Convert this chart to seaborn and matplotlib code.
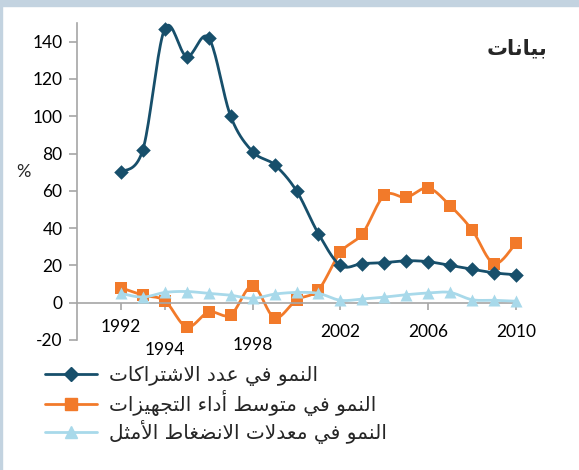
import numpy as np
import pandas as pd
import matplotlib
matplotlib.use('Agg')
import matplotlib.pyplot as plt
import seaborn as sns
from matplotlib.lines import Line2D
from matplotlib.patches import Rectangle

# dane
years = list(range(1992, 2011))
subscriptions = [70, 82, 147, 132, 142, 100, 81, 74, 60, 37,
                 20, 21, 21.5, 22.5, 22, 20, 18, 16, 15]
equipment = [8, 4, 1, -13, -5, -6.5, 9, -8, 1.5, 7,
             27, 37, 57.5, 56.5, 61.5, 52, 39, 21, 32]
compression = [5, 3, 5.5, 6, 5, 4, 2.3, 4.6, 5.5, 5,
               1.3, 2, 3, 4.3, 5.2, 5.5, 1.6, 1.3, 0.8]

labels = ['النمو في عدد الاشتراكات',
          'النمو في متوسط أداء التجهيزات',
          'النمو في معدلات الانضغاط الأمثل']
title = 'بيانات'
xticks = [1992, 1994, 1998, 2002, 2006, 2010]
yticks = list(range(-20, 141, 20))

colors = ['#174f6b', '#f27a2a', '#a8d9ea']
markers = ['D', 's', '^']
sizes = [55, 70, 75]


# prosty "shaper" arabski (matplotlib nie laczy liter)
_letters = 'ءآأؤإئابةتثجحخدذرزسشصضطظعغفقكلمنهوىي'
_right_only = set('آأؤإاةدذرزوى')
FORMS = {}
_cp = 0xFE80
for ch in _letters:
    n = 1 if ch == 'ء' else (2 if ch in _right_only else 4)
    FORMS[ch] = [chr(_cp + k) for k in range(n)]
    _cp += n
LAMALEF = {'آ': 0xFEF5, 'أ': 0xFEF7, 'إ': 0xFEF9, 'ا': 0xFEFB}


def shape(text):
    tokens = []
    i = 0
    while i < len(text):
        c = text[i]
        if c == 'ل' and i + 1 < len(text) and text[i + 1] in LAMALEF:
            cp = LAMALEF[text[i + 1]]
            tokens.append([chr(cp), chr(cp + 1)])
            i += 2
        else:
            tokens.append(FORMS.get(c, c))
            i += 1
    out = []
    for k, f in enumerate(tokens):
        if isinstance(f, str):
            out.append(f)
            continue
        prev = tokens[k - 1] if k > 0 else None
        nxt = tokens[k + 1] if k + 1 < len(tokens) else None
        jp = isinstance(prev, list) and len(prev) == 4 and len(f) > 1
        jn = len(f) == 4 and isinstance(nxt, list) and len(nxt) >= 2
        if jp and jn:
            out.append(f[3])
        elif jp:
            out.append(f[1])
        elif jn:
            out.append(f[2])
        else:
            out.append(f[0])
    return ''.join(reversed(out))


def smooth(x, y, n=20):
    # gladka linia jak w Excelu (Bezier / Catmull-Rom)
    x = np.asarray(x, float)
    y = np.asarray(y, float)
    px = np.r_[x[0], x, x[-1]]
    py = np.r_[y[0], y, y[-1]]
    t = np.linspace(0, 1, n, endpoint=False)[:, None]
    pts = []
    for i in range(1, len(x)):
        p0 = np.array([px[i - 1], py[i - 1]])
        p1 = np.array([px[i], py[i]])
        p2 = np.array([px[i + 1], py[i + 1]])
        p3 = np.array([px[i + 2], py[i + 2]])
        c1 = p1 + (p2 - p0) / 6
        c2 = p2 - (p3 - p1) / 6
        b = ((1 - t) ** 3) * p1 + 3 * ((1 - t) ** 2) * t * c1 + 3 * (1 - t) * t ** 2 * c2 + t ** 3 * p2
        pts.append(b)
    pts.append(np.array([[x[-1], y[-1]]]))
    pts = np.vstack(pts)
    return pts[:, 0], pts[:, 1]


sns.set_theme(style='white')
plt.rcParams['font.family'] = ['Lato', 'DejaVu Sans']
plt.rcParams['axes.unicode_minus'] = False

fig = plt.figure(figsize=(5.79, 4.70), dpi=100)
ax = fig.add_axes([77 / 579, 130 / 470, 439 / 579, 317 / 470])

series = [subscriptions, equipment, compression]
zorders = [3, 2, 4]
for vals, c, m, s, z in zip(series, colors, markers, sizes, zorders):
    sx, sy = smooth(years, vals)
    sns.lineplot(x=sx, y=sy, color=c, lw=2.0, ax=ax, zorder=z, sort=False, clip_on=False)
    sns.scatterplot(x=years, y=vals, marker=m, s=s, color=c, edgecolor=c,
                    linewidth=0, ax=ax, zorder=z + 0.5, clip_on=False)

ax.set_xlim(1990, 2010)
ax.set_ylim(-20, 150)
ax.set_yticks(yticks)
ax.set_xticks(xticks)
ax.set_xticklabels([str(v) for v in xticks])

for side in ['top', 'right']:
    ax.spines[side].set_visible(False)
ax.spines['bottom'].set_position(('data', 0))
for side in ['left', 'bottom']:
    ax.spines[side].set_color('#a6a6a6')
    ax.spines[side].set_linewidth(1.2)
ax.spines['left'].set_bounds(-20, 150)

ax.tick_params(axis='y', direction='out', length=5.5, width=1.2, color='#a6a6a6',
               left=True, labelsize=12.5, pad=5, labelcolor='black')
ax.tick_params(axis='x', direction='out', length=5, width=1.2, color='#a6a6a6',
               bottom=True, labelsize=12.5, labelcolor='black')
pads = [7.0, 23.0, 19.8, 10.0, 10.0, 10.0]
for tk, p in zip(ax.xaxis.get_major_ticks(), pads):
    tk.set_pad(p)

ax.set_ylabel('%', rotation=0, fontsize=13, va='center', ha='center')
ax.yaxis.set_label_coords(-0.123, 0.53)

fig.text(547 / 579, 1 - 48 / 470, shape(title), ha='right', va='center',
         fontsize=15, fontweight='bold', family=['DejaVu Sans'])

handles = [Line2D([0], [0], color=c, lw=2.0, marker=m, markersize=8 if m != 'D' else 7)
           for c, m in zip(colors, markers)]
leg = fig.legend(handles, [shape(t) for t in labels], loc='upper left',
                 bbox_to_anchor=(45 / 579, 1 - 366 / 470), frameon=False,
                 prop={'family': 'DejaVu Sans', 'size': 14.5},
                 handlelength=2.6, handletextpad=0.6, labelspacing=0.2,
                 borderpad=0, borderaxespad=0)

# ramka
fig.patches.append(Rectangle((0, 1 - 6 / 470), 1, 6 / 470, transform=fig.transFigure,
                             color='#c3d3e0', zorder=0))
fig.patches.append(Rectangle((0, 0), 2 / 579, 1, transform=fig.transFigure,
                             color='#c3d3e0', zorder=0))

fig.savefig('out.png', dpi=100)
